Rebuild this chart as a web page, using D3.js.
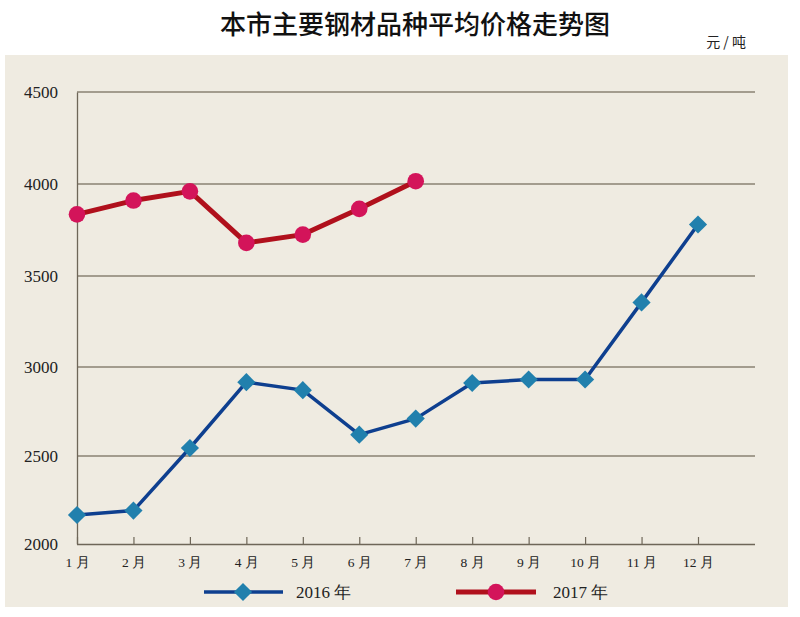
<!DOCTYPE html>
<html><head><meta charset="utf-8">
<script src="https://cdn.jsdelivr.net/npm/d3@7"></script>
<style>body{margin:0;background:#fff}svg{display:block}</style>
</head><body>
<svg id="c" width="800" height="617"></svg>
<script>
const months = ["1 月","2 月","3 月","4 月","5 月","6 月","7 月","8 月","9 月","10 月","11 月","12 月"];
const values2016 = [2165, 2190, 2545, 2915, 2870, 2620, 2710, 2910, 2930, 2930, 3355, 3780];
const values2017 = [3835, 3910, 3960, 3680, 3725, 3865, 4015];
const yTicks = [2000, 2500, 3000, 3500, 4000, 4500];
const seriesNames = ["2016 年", "2017 年"];
const title = "本市主要钢材品种平均价格走势图";
const unit = "元 / 吨";

const svg = d3.select("#c");
const serif = "'Liberation Serif','Times New Roman',serif";
const cjk = "'Noto Sans CJK SC',sans-serif";

svg.append("rect").attr("x",5).attr("y",55).attr("width",783).attr("height",552).attr("fill","#efebe1");

svg.append("text").attr("x",415).attr("y",34).attr("text-anchor","middle")
  .attr("font-family",cjk).attr("font-size",26).attr("font-weight",500).attr("fill","#111").text(title);
svg.append("text").attr("x",746).attr("y",47).attr("text-anchor","end")
  .attr("font-family",cjk).attr("font-size",14).attr("fill","#222").text(unit);

const x = d3.scalePoint().domain(months).range([77, 698]);
// printed chart has slightly uneven grid spacing; follow it with a piecewise scale
const y = d3.scaleLinear().domain(yTicks).range([544, 456, 367, 276, 184, 92]);

// grid lines
svg.append("g").selectAll("line").data(yTicks.slice(1)).join("line")
  .attr("x1",77).attr("x2",755).attr("y1",d=>y(d)).attr("y2",d=>y(d))
  .attr("stroke","#8a8272").attr("stroke-width",1.3);

// y axis
const ya = svg.append("g").attr("transform","translate(77,0)")
  .call(d3.axisLeft(y).tickValues(yTicks).tickSize(0).tickPadding(19).tickFormat(d3.format("d")));
ya.select(".domain").attr("stroke","#6e6658").attr("stroke-width",1.3);
ya.selectAll("text").attr("font-family",serif).attr("font-size",17).attr("fill","#222");

// x axis
const xa = svg.append("g").attr("transform","translate(0,544)")
  .call(d3.axisBottom(x).tickSize(-7).tickSizeOuter(0).tickPadding(13));
xa.select(".domain").attr("d","M77,0.5H755").attr("stroke","#6e6658").attr("stroke-width",1.3);
xa.selectAll(".tick line").attr("stroke","#6e6658").attr("stroke-width",1.2);
xa.selectAll("text").attr("font-family",serif).attr("font-size",13.5).attr("fill","#222");

const line = d3.line().x((d,i)=>x(months[i])).y(d=>y(d));

// 2016
svg.append("path").datum(values2016).attr("d",line).attr("fill","none")
  .attr("stroke","#0e3f8f").attr("stroke-width",3.5).attr("stroke-linejoin","round");
const diamond = d3.symbol().type(d3.symbolSquare).size(165);
svg.append("g").selectAll("path").data(values2016).join("path")
  .attr("d",diamond)
  .attr("transform",(d,i)=>`translate(${x(months[i])},${y(d)}) rotate(45)`)
  .attr("fill","#2180ad");

// 2017
svg.append("path").datum(values2017).attr("d",line).attr("fill","none")
  .attr("stroke","#b0101c").attr("stroke-width",5).attr("stroke-linejoin","round");
svg.append("g").selectAll("circle").data(values2017).join("circle")
  .attr("cx",(d,i)=>x(months[i])).attr("cy",d=>y(d)).attr("r",8.3).attr("fill","#d3145a");

// legend
const lg = svg.append("g");
lg.append("line").attr("x1",204).attr("x2",283).attr("y1",592).attr("y2",592).attr("stroke","#0e3f8f").attr("stroke-width",3.5);
lg.append("path").attr("d",diamond).attr("transform","translate(243,592) rotate(45)").attr("fill","#2180ad");
lg.append("text").attr("x",296).attr("y",598).attr("font-family",serif).attr("font-size",17).attr("fill","#222").text(seriesNames[0]);
lg.append("line").attr("x1",456).attr("x2",536).attr("y1",592).attr("y2",592).attr("stroke","#b0101c").attr("stroke-width",5);
lg.append("circle").attr("cx",496).attr("cy",592).attr("r",8.3).attr("fill","#d3145a");
lg.append("text").attr("x",553).attr("y",598).attr("font-family",serif).attr("font-size",17).attr("fill","#222").text(seriesNames[1]);
</script>
</body></html>
